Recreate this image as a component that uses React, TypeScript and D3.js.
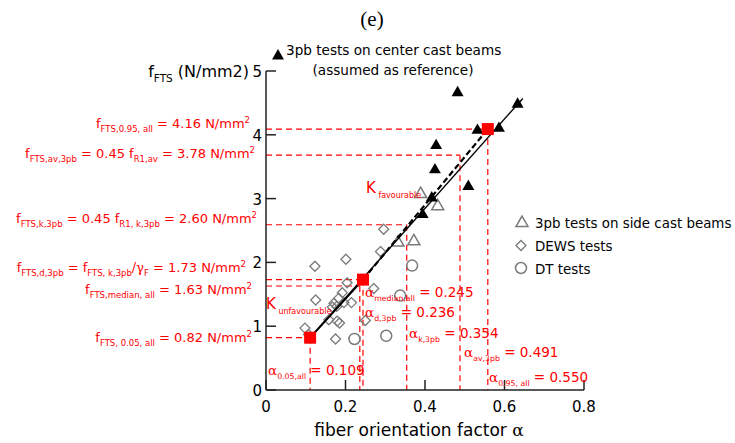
import React from 'react';
import * as d3 from 'd3';

// ---------- data ----------
const centerCast: [number, number][] = [
  [0.482, 4.66], [0.633, 4.48], [0.532, 4.07], [0.586, 4.1], [0.428, 3.83],
  [0.425, 3.45], [0.509, 3.19], [0.417, 3.01], [0.394, 2.75],
];
const sideCast: [number, number][] = [
  [0.389, 3.07], [0.432, 2.88], [0.332, 2.31], [0.372, 2.33],
];
const dewsTests: [number, number][] = [
  [0.296, 2.52], [0.288, 2.17], [0.201, 2.05], [0.123, 1.94], [0.204, 1.68],
  [0.271, 1.59], [0.125, 1.41], [0.192, 1.525], [0.183, 1.44], [0.171, 1.36],
  [0.215, 1.37], [0.178, 1.31], [0.196, 1.37], [0.158, 1.1], [0.179, 1.08],
  [0.185, 1.05], [0.098, 0.97], [0.107, 0.87], [0.175, 0.8], [0.25, 1.09],
  [0.167, 1.3],
];
const dtTests: [number, number][] = [
  [0.3675, 1.95], [0.3375, 1.48], [0.3025, 0.85], [0.2225, 0.8],
];
const charPoints: [number, number][] = [[0.111, 0.82], [0.244, 1.73], [0.558, 4.09]];
const refLines: [number, number][] = [
  [0.111, 0.82], [0.236, 1.63], [0.244, 1.73], [0.354, 2.59], [0.488, 3.68], [0.558, 4.09],
];
const fitLine: [number, number][] = [[0.111, 0.82], [0.646, 4.57]];
const kUnfav: [number, number][] = [[0.111, 0.82], [0.244, 1.73]];
const kFav: [number, number][] = [[0.244, 1.73], [0.558, 4.09]];
const xTicks = [0, 0.2, 0.4, 0.6, 0.8];
const yTicks = [0, 1, 2, 3, 4, 5];
const xTickLabels = ['0', '0.2', '0.4', '0.6', '0.8'];
const yTickLabels = ['0', '1', '2', '3', '4', '5'];

type Part = { t: string; s?: 'sub' | 'sup'; serif?: boolean };

const leftLabels: Part[][] = [
  [{ t: 'f' }, { t: 'FTS,0.95, all', s: 'sub' }, { t: ' = 4.16 N/mm' }, { t: '2', s: 'sup' }],
  [{ t: 'f' }, { t: 'FTS,av,3pb', s: 'sub' }, { t: ' = 0.45 f' }, { t: 'R1,av', s: 'sub' }, { t: ' = 3.78 N/mm' }, { t: '2', s: 'sup' }],
  [{ t: 'f' }, { t: 'FTS,k,3pb', s: 'sub' }, { t: ' = 0.45 f' }, { t: 'R1, k,3pb', s: 'sub' }, { t: ' = 2.60 N/mm' }, { t: '2', s: 'sup' }],
  [{ t: 'f' }, { t: 'FTS,d,3pb', s: 'sub' }, { t: ' = f' }, { t: 'FTS, k,3pb', s: 'sub' }, { t: '/γ', serif: true }, { t: 'F', s: 'sub' }, { t: ' = 1.73 N/mm' }, { t: '2', s: 'sup' }],
  [{ t: 'f' }, { t: 'FTS,median, all', s: 'sub' }, { t: ' = 1.63 N/mm' }, { t: '2', s: 'sup' }],
  [{ t: 'f' }, { t: 'FTS, 0.05, all', s: 'sub' }, { t: ' = 0.82 N/mm' }, { t: '2', s: 'sup' }],
];
const leftLabelPos = [[250, 128], [255, 158], [257, 223], [246, 272], [252, 294], [252, 342]];

const alphaLabels: Part[][] = [
  [{ t: 'α', serif: true }, { t: '0.05,all', s: 'sub' }, { t: ' = 0.109' }],
  [{ t: 'α', serif: true }, { t: 'median,all', s: 'sub' }, { t: ' = 0.245' }],
  [{ t: 'α', serif: true }, { t: 'd,3pb', s: 'sub' }, { t: ' = 0.236' }],
  [{ t: 'α', serif: true }, { t: 'k,3pb', s: 'sub' }, { t: ' = 0.354' }],
  [{ t: 'α', serif: true }, { t: 'av,3pb', s: 'sub' }, { t: ' = 0.491' }],
  [{ t: 'α', serif: true }, { t: '0.95, all', s: 'sub' }, { t: ' = 0.550' }],
];
const alphaLabelPos = [[268, 375], [365, 297], [365, 317], [409, 338], [464, 357], [489, 382]];

const kLabels: Part[][] = [
  [{ t: 'K' }, { t: ' favourable', s: 'sub' }],
  [{ t: 'K' }, { t: ' unfavourable', s: 'sub' }],
];
const kLabelPos = [[366, 193], [266, 309]];

const legendItems = ['3pb tests on side cast beams', 'DEWS tests', 'DT tests'];
const legendTitle = ['3pb tests on center cast beams', '(assumed as reference)'];

// ---------- layout ----------
const W = 735, H = 443;
const FONT = 'DejaVu Sans';
const RED = '#ff0000';
const GRAY = '#7a7a7a';
const x = d3.scaleLinear().domain([0, 0.8]).range([266, 584]);
const y = d3.scaleLinear().domain([0, 5]).range([390, 71]);

const tri = d3.symbol().type(d3.symbolTriangle).size(62);
const triPath = tri() as string;

function Rich({ x: px, y: py, anchor = 'start', size, subSize, parts, fill, family = FONT }:
  { x: number; y: number; anchor?: string; size: number; subSize: number; parts: Part[]; fill: string; family?: string }) {
  let cur = 0;
  return (
    <text x={px} y={py} textAnchor={anchor} fontSize={size} fill={fill} fontFamily={family} style={{ whiteSpace: 'pre' }}>
      {parts.map((p, i) => {
        const target = p.s === 'sub' ? size * 0.32 : p.s === 'sup' ? -size * 0.42 : 0;
        const dy = target - cur;
        cur = target;
        return (
          <tspan key={i} dy={dy} fontSize={p.s ? subSize : size} fontFamily={p.serif ? 'DejaVu Serif' : undefined}>
            {p.t}
          </tspan>
        );
      })}
    </text>
  );
}

export default function App() {
  const line = d3.line<[number, number]>().x(d => x(d[0])).y(d => y(d[1]));
  const diamond = (cx: number, cy: number, r: number) => `M${cx},${cy - r}L${cx + r},${cy}L${cx},${cy + r}L${cx - r},${cy}Z`;
  return (
    <svg width={W} height={H} style={{ position: 'absolute', left: 0, top: 0, background: '#fff' }}>
      {/* title */}
      <text x={372} y={26} textAnchor="middle" fontFamily="Liberation Serif" fontSize={21} fill="#000">(e)</text>

      {/* red reference dashed lines */}
      <g stroke={RED} strokeWidth={1.2} strokeDasharray="6,4" fill="none">
        {refLines.map((d, i) => (
          <g key={i}>
            <line x1={x(0)} x2={x(d[0])} y1={y(d[1])} y2={y(d[1])} />
            <line x1={x(d[0])} x2={x(d[0])} y1={y(d[1])} y2={y(0)} />
          </g>
        ))}
      </g>

      {/* axes */}
      <g stroke="#222" strokeWidth={1.5} fill="none">
        <line x1={x(0)} x2={x(0)} y1={y(0)} y2={y(5)} />
        <line x1={x(0)} x2={x(0.8)} y1={y(0)} y2={y(0)} />
        {yTicks.map(t => <line key={'y' + t} x1={x(0)} x2={x(0) + 10} y1={y(t)} y2={y(t)} />)}
        {xTicks.map(t => <line key={'x' + t} x1={x(t)} x2={x(t)} y1={y(0)} y2={y(0) - 10} />)}
      </g>
      {yTicks.map((t, i) => (
        <text key={'yl' + t} x={x(0) - 4} y={y(t) + 6} textAnchor="end" fontFamily={FONT} fontSize={15} fill="#000">{yTickLabels[i]}</text>
      ))}
      {xTicks.map((t, i) => (
        <text key={'xl' + t} x={x(t)} y={412} textAnchor="middle" fontFamily={FONT} fontSize={15} fill="#000">{xTickLabels[i]}</text>
      ))}
      <text x={419} y={436} textAnchor="middle" fontFamily={FONT} fontSize={17} fill="#000" style={{ whiteSpace: 'pre' }}>
        fiber orientation factor <tspan fontFamily="DejaVu Serif">α</tspan>
      </text>
      <Rich x={249} y={77} anchor="end" size={16} subSize={10.5} fill="#000"
        parts={[{ t: 'f' }, { t: 'FTS', s: 'sub' }, { t: ' (N/mm2)' }]} />

      {/* data markers */}
      {dewsTests.map((d, i) => (
        <path key={'dw' + i} d={diamond(x(d[0]), y(d[1]), 5)} fill="none" stroke={GRAY} strokeWidth={1.3} />
      ))}
      {dtTests.map((d, i) => (
        <circle key={'dt' + i} cx={x(d[0])} cy={y(d[1])} r={5.5} fill="none" stroke={GRAY} strokeWidth={1.5} />
      ))}
      {sideCast.map((d, i) => (
        <path key={'sc' + i} d={triPath} transform={`translate(${x(d[0])},${y(d[1])})`} fill="none" stroke={GRAY} strokeWidth={1.5} />
      ))}
      {centerCast.map((d, i) => (
        <path key={'cc' + i} d={triPath} transform={`translate(${x(d[0])},${y(d[1])})`} fill="#000" />
      ))}

      {/* fit lines */}
      <path d={line(fitLine) as string} stroke="#000" strokeWidth={1.4} fill="none" />
      <path d={line(kUnfav) as string} stroke="#000" strokeWidth={2} fill="none" />
      <path d={line(kFav) as string} stroke="#000" strokeWidth={2.2} strokeDasharray="6,3" fill="none" />

      {/* characteristic points */}
      {charPoints.map((d, i) => (
        <rect key={'cp' + i} x={x(d[0]) - 6} y={y(d[1]) - 6} width={12} height={12} fill={RED} />
      ))}

      {/* red annotation text */}
      {leftLabels.map((p, i) => (
        <Rich key={'ll' + i} x={leftLabelPos[i][0]} y={leftLabelPos[i][1]} anchor="end" size={13} subSize={8.5} fill={RED} parts={p} />
      ))}
      {alphaLabels.map((p, i) => (
        <Rich key={'al' + i} x={alphaLabelPos[i][0]} y={alphaLabelPos[i][1]} size={13.5} subSize={7.8} fill={RED} parts={p} />
      ))}
      {kLabels.map((p, i) => (
        <Rich key={'kl' + i} x={kLabelPos[i][0]} y={kLabelPos[i][1]} size={15} subSize={8} fill={RED} parts={p} />
      ))}

      {/* legend */}
      <path d={triPath} transform={`translate(${278},${56})`} fill="#000" />
      <text x={286} y={55} fontFamily={FONT} fontSize={13.6} fill="#000">{legendTitle[0]}</text>
      <text x={393} y={75} textAnchor="middle" fontFamily={FONT} fontSize={13.6} fill="#000">{legendTitle[1]}</text>

      <path d={triPath} transform={`translate(${522},${223})`} fill="none" stroke={GRAY} strokeWidth={1.5} />
      <path d={diamond(521, 245.5, 5)} fill="none" stroke={GRAY} strokeWidth={1.3} />
      <circle cx={521} cy={268} r={5.5} fill="none" stroke={GRAY} strokeWidth={1.5} />
      {legendItems.map((t, i) => (
        <text key={'lg' + i} x={535} y={227.5 + i * 23} fontFamily={FONT} fontSize={13.4} fill="#000">{t}</text>
      ))}
    </svg>
  );
}
